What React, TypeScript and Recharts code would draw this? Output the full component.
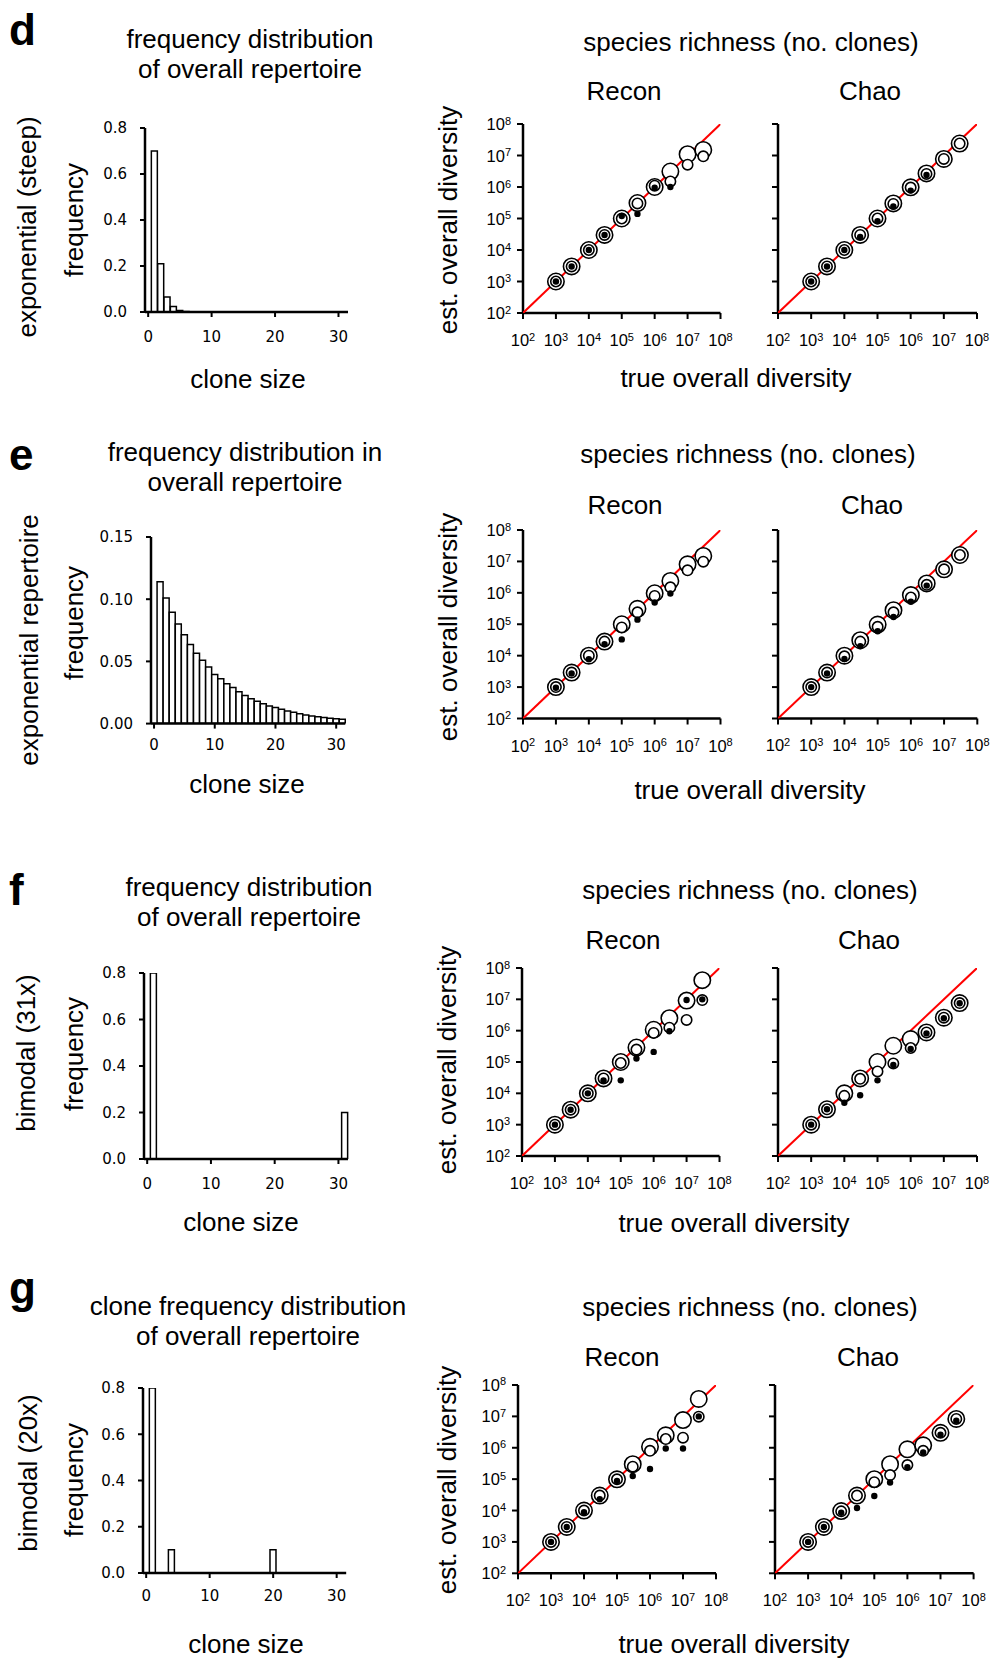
import { BarChart, Bar, XAxis, YAxis, ScatterChart, Scatter } from "recharts";

// histogram categories (clone size) and frequencies
const cloneSizes = [
  0, 1, 2, 3, 4, 5, 6, 7, 8, 9, 10, 11, 12, 13, 14, 15, 16, 17, 18, 19, 20, 21,
  22, 23, 24, 25, 26, 27, 28, 29, 30, 31,
];
const steepFreq = [
  0, 0.7, 0.21, 0.065, 0.024, 0.007, 0.002, 0, 0, 0, 0, 0, 0, 0, 0, 0, 0, 0, 0,
  0, 0, 0, 0, 0, 0, 0, 0, 0, 0, 0, 0, 0,
];
const expFreq = [
  0, 0.114, 0.101, 0.0895, 0.08, 0.0715, 0.0635, 0.0565, 0.051, 0.0455, 0.0395,
  0.036, 0.032, 0.029, 0.0255, 0.0225, 0.02, 0.018, 0.016, 0.0142, 0.0129,
  0.0115, 0.0102, 0.0091, 0.008, 0.007, 0.0062, 0.0056, 0.0048, 0.0043, 0.0038,
  0.0035,
];
const bimodal31Freq = [
  0, 0.8, 0, 0, 0, 0, 0, 0, 0, 0, 0, 0, 0, 0, 0, 0, 0, 0, 0, 0, 0, 0, 0, 0, 0,
  0, 0, 0, 0, 0, 0, 0.2,
];
const bimodal20Freq = [
  0, 0.8, 0, 0, 0.1, 0, 0, 0, 0, 0, 0, 0, 0, 0, 0, 0, 0, 0, 0, 0, 0.1, 0, 0, 0,
  0, 0, 0, 0, 0, 0, 0, 0,
];

// species richness: true vs estimated diversity
const trueDiversity = [1e3, 3e3, 1e4, 3e4, 1e5, 3e5, 1e6, 3e6, 1e7, 3e7];
const decadeTicks = [1e2, 1e3, 1e4, 1e5, 1e6, 1e7, 1e8];

const dReconLarge = [1e3, 3e3, 1e4, 3e4, 1e5, 3.1e5, 1e6, 3.1e6, 1.1e7, 1.5e7];
const dReconMedium = [1e3, 3e3, 1e4, 3e4, 1e5, 3e5, 1.1e6, 1.5e6, 5.1e6, 9.4e6];
const dReconSmall = [1e3, 3e3, 1e4, 3e4, 1.2e5, 1.4e5, 9.5e5, 1e6, null, null];
const dChaoLarge = [1e3, 3e3, 1e4, 3e4, 1e5, 3e5, 9.8e5, 2.7e6, 7.8e6, 2.4e7];
const dChaoMedium = [1e3, 3e3, 1e4, 3e4, 1e5, 2.9e5, 9.6e5, 2.6e6, 7.8e6, 2.4e7];
const dChaoSmall = [1e3, 3e3, 1e4, 2.6e4, 8.2e4, 2.4e5, 7.7e5, 2.4e6, null, null];

const eReconLarge = [1e3, 2.9e3, 1e4, 2.8e4, 1e5, 3.1e5, 9.7e5, 2.4e6, 8.1e6, 1.5e7];
const eReconMedium = [1e3, 2.9e3, 1e4, 2.8e4, 7.9e4, 2.4e5, 8e5, 1.5e6, 5.2e6, 9.8e6];
const eReconSmall = [9.5e2, 2.7e3, 7.7e3, 2.3e4, 3.3e4, 1.4e5, 4.9e5, 9.5e5, null, null];
const eChaoLarge = [1e3, 2.9e3, 1e4, 3.1e4, 9.8e4, 2.8e5, 8.5e5, 2e6, 5.6e6, 1.6e7];
const eChaoMedium = [1e3, 2.9e3, 9.5e3, 2.8e4, 8.3e4, 2.4e5, 7.1e5, 1.8e6, 5.6e6, 1.6e7];
const eChaoSmall = [1e3, 2.7e3, 7.8e3, 2e4, 6e4, 1.7e5, 5.2e5, 1.7e6, null, null];

const fReconLarge = [1e3, 3e3, 1e4, 3e4, 1e5, 2.9e5, 1.07e6, 2.5e6, 9.1e6, 4.1e7];
const fReconMedium = [1e3, 3e3, 1e4, 3e4, 9.3e4, 2.5e5, 8.5e5, 1.25e6, 2.2e6, 9.5e6];
const fReconSmall = [1e3, 3e3, 1e4, 2.6e4, 2.6e4, 1.3e5, 2.1e5, 9.6e5, 9.5e6, 1e7];
const fChaoLarge = [1e3, 3.1e3, 1e4, 3e4, 1e5, 3.3e5, 5.4e5, 8.8e5, 2.6e6, 7.6e6];
const fChaoMedium = [1e3, 3.1e3, 8.3e3, 2.9e4, 5e4, 9e4, 2.8e5, 8.8e5, 2.6e6, 7.6e6];
const fChaoSmall = [1e3, 3.1e3, 5e3, 8.7e3, 2.6e4, 8e4, 2.6e5, 8.2e5, 2.5e6, 7.5e6];

const gReconLarge = [1e3, 3e3, 1e4, 3e4, 9.9e4, 3e5, 1.07e6, 2.5e6, 7.6e6, 3.6e7];
const gReconMedium = [1e3, 3e3, 1e4, 3e4, 9.9e4, 2.5e5, 8e5, 1.9e6, 2.1e6, 9.8e6];
const gReconSmall = [1e3, 3e3, 8.8e3, 2.3e4, 8.8e4, 1.26e5, 2.1e5, 9.5e5, 9.5e5, 1e7];
const gChaoLarge = [1e3, 3e3, 9.6e3, 3e4, 1e5, 3e5, 8.9e5, 1.2e6, 3e6, 8.3e6];
const gChaoMedium = [1e3, 3e3, 9.4e3, 3e4, 8e4, 1.35e5, 2.8e5, 8e5, 3e6, 8.3e6];
const gChaoSmall = [1e3, 3e3, 8.5e3, 1.2e4, 2.9e4, 7.8e4, 2.4e5, 7.1e5, 2.6e6, 7.3e6];

const SANS = "Liberation Sans, Arial, Helvetica, sans-serif";

type Box = { x0: number; y0: number; x1: number; y1: number };

const toPoints = (ys: (number | null)[]) =>
  trueDiversity
    .map((x, i) => ({ x, y: ys[i] }))
    .filter((p) => p.y !== null);

const identityLine = [
  { x: decadeTicks[0], y: decadeTicks[0] },
  { x: decadeTicks[decadeTicks.length - 1], y: decadeTicks[decadeTicks.length - 1] },
];

const renderPowX = (props: any) => {
  const { x, y, payload } = props;
  const exp = Math.round(Math.log10(payload.value));
  return (
    <text x={x} y={y + 12} textAnchor="middle" fontSize={16.5} fontFamily={SANS} fill="#000">
      10
      <tspan dy={-5.5} fontSize={11}>
        {exp}
      </tspan>
    </text>
  );
};

const renderPowY = (props: any) => {
  const { x, y, payload } = props;
  const exp = Math.round(Math.log10(payload.value));
  return (
    <text x={x} y={y + 6} textAnchor="end" fontSize={16.5} fontFamily={SANS} fill="#000">
      10
      <tspan dy={-5.5} fontSize={11}>
        {exp}
      </tspan>
    </text>
  );
};

const renderNoTick = () => <g />;

const ring = (r: number) => (p: any) =>
  <circle cx={p.cx} cy={p.cy} r={r} fill="#fff" stroke="#000" strokeWidth={1.6} />;
const dot = (p: any) => <circle cx={p.cx} cy={p.cy} r={3.2} fill="#000" />;

function DiversityPanel({
  box,
  large,
  medium,
  small,
  showYLabels,
}: {
  box: Box;
  large: (number | null)[];
  medium: (number | null)[];
  small: (number | null)[];
  showYLabels: boolean;
}) {
  const yAxisW = 70;
  const mTop = 10;
  const mRight = 15;
  const xAxisH = 45;
  const w = box.x1 - box.x0 + yAxisW + mRight;
  const h = box.y1 - box.y0 + mTop + xAxisH;
  return (
    <div style={{ position: "absolute", left: box.x0 - yAxisW, top: box.y0 - mTop }}>
      <ScatterChart width={w} height={h} margin={{ top: mTop, right: mRight, left: 0, bottom: 0 }}>
        <XAxis
          type="number"
          dataKey="x"
          scale="log"
          domain={[1e2, 1e8]}
          ticks={decadeTicks}
          interval={0}
          allowDataOverflow
          height={xAxisH}
          axisLine={{ stroke: "#000", strokeWidth: 2.5 }}
          tickLine={{ stroke: "#000", strokeWidth: 2 }}
          tickSize={6}
          tickMargin={15}
          tick={renderPowX}
        />
        <YAxis
          type="number"
          dataKey="y"
          scale="log"
          domain={[1e2, 1e8]}
          ticks={decadeTicks}
          interval={0}
          allowDataOverflow
          width={yAxisW}
          axisLine={{ stroke: "#000", strokeWidth: 2.5 }}
          tickLine={{ stroke: "#000", strokeWidth: 2 }}
          tickSize={6}
          tickMargin={6}
          tick={showYLabels ? renderPowY : renderNoTick}
        />
        <Scatter
          data={identityLine}
          line={{ stroke: "#f00", strokeWidth: 2 }}
          shape={renderNoTick}
          isAnimationActive={false}
        />
        <Scatter data={toPoints(large)} shape={ring(8.2)} isAnimationActive={false} />
        <Scatter data={toPoints(medium)} shape={ring(5.2)} isAnimationActive={false} />
        <Scatter data={toPoints(small)} shape={dot} isAnimationActive={false} />
      </ScatterChart>
    </div>
  );
}

function FrequencyHistogram({
  box,
  values,
  yMax,
  yTicks,
  decimals,
  xTickMargin,
}: {
  box: Box;
  values: number[];
  yMax: number;
  yTicks: number[];
  decimals: number;
  xTickMargin: number;
}) {
  const yAxisW = 60;
  const mTop = 8;
  const mRight = 12;
  const xAxisH = 40;
  const w = box.x1 - box.x0 + yAxisW + mRight;
  const h = box.y1 - box.y0 + mTop + xAxisH;
  const data = cloneSizes.map((s, i) => ({ size: s, freq: values[i] }));
  const tickFont = { fill: "#000", fontSize: 15, fontFamily: "DejaVu Sans" };
  return (
    <div style={{ position: "absolute", left: box.x0 - yAxisW, top: box.y0 - mTop }}>
      <BarChart
        width={w}
        height={h}
        data={data}
        margin={{ top: mTop, right: mRight, left: 0, bottom: 0 }}
        barCategoryGap={0}
        barGap={0}
      >
        <XAxis
          dataKey="size"
          interval={9}
          height={xAxisH}
          axisLine={{ stroke: "#000", strokeWidth: 2.5 }}
          tickLine={{ stroke: "#000", strokeWidth: 2 }}
          tickSize={5}
          tickMargin={xTickMargin}
          tick={tickFont}
        />
        <YAxis
          type="number"
          domain={[0, yMax]}
          ticks={yTicks}
          interval={0}
          allowDataOverflow
          width={yAxisW}
          axisLine={{ stroke: "#000", strokeWidth: 2.5 }}
          tickLine={{ stroke: "#000", strokeWidth: 2 }}
          tickSize={5}
          tickMargin={13}
          tick={tickFont}
          tickFormatter={(v: number) => v.toFixed(decimals)}
        />
        <Bar dataKey="freq" fill="#fff" stroke="#000" strokeWidth={1.5} isAnimationActive={false} />
      </BarChart>
    </div>
  );
}

const rows = [
  {
    letter: "d",
    letterY: 45,
    title: ["frequency distribution", "of overall repertoire"],
    titleX: 250,
    titleY: 48,
    rowLabel: "exponential (steep)",
    rowLabelX: 36,
    rowLabelY: 227,
    freqY: 220,
    cloneX: 248,
    cloneY: 388,
    speciesX: 751,
    speciesY: 51,
    reconX: 624,
    chaoX: 870,
    methodY: 100,
    estX: 457,
    estY: 220,
    trueX: 736,
    trueY: 387,
    hist: { x0: 145, y0: 128, x1: 348, y1: 312 },
    histTickMargin: 14,
    values: steepFreq,
    yMax: 0.8,
    yTicks: [0, 0.2, 0.4, 0.6, 0.8],
    decimals: 1,
    recon: { x0: 522.7, y0: 123.5, x1: 720.2, y1: 312.5 },
    chao: { x0: 777.7, y0: 123.5, x1: 976.7, y1: 312.5 },
    reconSeries: [dReconLarge, dReconMedium, dReconSmall],
    chaoSeries: [dChaoLarge, dChaoMedium, dChaoSmall],
  },
  {
    letter: "e",
    letterY: 470,
    title: ["frequency distribution in", "overall repertoire"],
    titleX: 245,
    titleY: 461,
    rowLabel: "exponential repertoire",
    rowLabelX: 38,
    rowLabelY: 640,
    freqY: 623,
    cloneX: 247,
    cloneY: 793,
    speciesX: 748,
    speciesY: 463,
    reconX: 625,
    chaoX: 872,
    methodY: 513.5,
    estX: 457,
    estY: 627,
    trueX: 750,
    trueY: 799,
    hist: { x0: 150.7, y0: 536.7, x1: 345, y1: 723.3 },
    histTickMargin: 11,
    values: expFreq,
    yMax: 0.15,
    yTicks: [0, 0.05, 0.1, 0.15],
    decimals: 2,
    recon: { x0: 522.7, y0: 529.5, x1: 720.2, y1: 718 },
    chao: { x0: 777.7, y0: 529.5, x1: 977, y1: 718 },
    reconSeries: [eReconLarge, eReconMedium, eReconSmall],
    chaoSeries: [eChaoLarge, eChaoMedium, eChaoSmall],
  },
  {
    letter: "f",
    letterY: 905,
    title: ["frequency distribution", "of overall repertoire"],
    titleX: 249,
    titleY: 896,
    rowLabel: "bimodal (31x)",
    rowLabelX: 35,
    rowLabelY: 1053,
    freqY: 1054,
    cloneX: 241,
    cloneY: 1231,
    speciesX: 750,
    speciesY: 899,
    reconX: 623,
    chaoX: 869,
    methodY: 948.5,
    estX: 456,
    estY: 1060,
    trueX: 734,
    trueY: 1232,
    hist: { x0: 144, y0: 973, x1: 348, y1: 1159 },
    histTickMargin: 14,
    values: bimodal31Freq,
    yMax: 0.8,
    yTicks: [0, 0.2, 0.4, 0.6, 0.8],
    decimals: 1,
    recon: { x0: 522, y0: 968, x1: 719.5, y1: 1156 },
    chao: { x0: 777.7, y0: 968, x1: 976.7, y1: 1156 },
    reconSeries: [fReconLarge, fReconMedium, fReconSmall],
    chaoSeries: [fChaoLarge, fChaoMedium, fChaoSmall],
  },
  {
    letter: "g",
    letterY: 1303,
    title: ["clone frequency distribution", "of overall repertoire"],
    titleX: 248,
    titleY: 1314.5,
    rowLabel: "bimodal (20x)",
    rowLabelX: 37,
    rowLabelY: 1473,
    freqY: 1480,
    cloneX: 246,
    cloneY: 1653,
    speciesX: 750,
    speciesY: 1316,
    reconX: 622,
    chaoX: 868,
    methodY: 1366,
    estX: 456,
    estY: 1480,
    trueX: 734,
    trueY: 1653,
    hist: { x0: 143.3, y0: 1388, x1: 346.5, y1: 1573 },
    histTickMargin: 12,
    values: bimodal20Freq,
    yMax: 0.8,
    yTicks: [0, 0.2, 0.4, 0.6, 0.8],
    decimals: 1,
    recon: { x0: 518, y0: 1385, x1: 716, y1: 1573.3 },
    chao: { x0: 774.7, y0: 1385, x1: 973.3, y1: 1573.3 },
    reconSeries: [gReconLarge, gReconMedium, gReconSmall],
    chaoSeries: [gChaoLarge, gChaoMedium, gChaoSmall],
  },
];

export default function App() {
  const txt = { fontFamily: SANS, fontSize: 26, fill: "#000" };
  return (
    <div
      style={{
        position: "absolute",
        left: 0,
        top: 0,
        width: 993,
        height: 1658,
        background: "#fff",
        overflow: "hidden",
      }}
    >
      <svg
        width={993}
        height={1658}
        style={{ position: "absolute", left: 0, top: 0, pointerEvents: "none" }}
      >
        {rows.map((r) => (
          <g key={r.letter}>
            <text x={9} y={r.letterY} fontFamily={SANS} fontSize={44} fontWeight="bold" fill="#000">
              {r.letter}
            </text>
            <text x={r.titleX} y={r.titleY} textAnchor="middle" {...txt}>
              {r.title[0]}
            </text>
            <text x={r.titleX} y={r.titleY + 30} textAnchor="middle" {...txt}>
              {r.title[1]}
            </text>
            <text
              transform={`translate(${r.rowLabelX},${r.rowLabelY}) rotate(-90)`}
              textAnchor="middle"
              {...txt}
            >
              {r.rowLabel}
            </text>
            <text
              transform={`translate(83,${r.freqY}) rotate(-90)`}
              textAnchor="middle"
              {...txt}
            >
              frequency
            </text>
            <text x={r.cloneX} y={r.cloneY} textAnchor="middle" {...txt}>
              clone size
            </text>
            <text x={r.speciesX} y={r.speciesY} textAnchor="middle" {...txt}>
              species richness (no. clones)
            </text>
            <text x={r.reconX} y={r.methodY} textAnchor="middle" {...txt}>
              Recon
            </text>
            <text x={r.chaoX} y={r.methodY} textAnchor="middle" {...txt}>
              Chao
            </text>
            <text
              transform={`translate(${r.estX},${r.estY}) rotate(-90)`}
              textAnchor="middle"
              {...txt}
            >
              est. overall diversity
            </text>
            <text x={r.trueX} y={r.trueY} textAnchor="middle" {...txt}>
              true overall diversity
            </text>
          </g>
        ))}
      </svg>
      {rows.map((r) => (
        <div key={r.letter}>
          <FrequencyHistogram
            box={r.hist}
            values={r.values}
            yMax={r.yMax}
            yTicks={r.yTicks}
            decimals={r.decimals}
            xTickMargin={r.histTickMargin}
          />
          <DiversityPanel
            box={r.recon}
            large={r.reconSeries[0]}
            medium={r.reconSeries[1]}
            small={r.reconSeries[2]}
            showYLabels
          />
          <DiversityPanel
            box={r.chao}
            large={r.chaoSeries[0]}
            medium={r.chaoSeries[1]}
            small={r.chaoSeries[2]}
            showYLabels={false}
          />
        </div>
      ))}
    </div>
  );
}
